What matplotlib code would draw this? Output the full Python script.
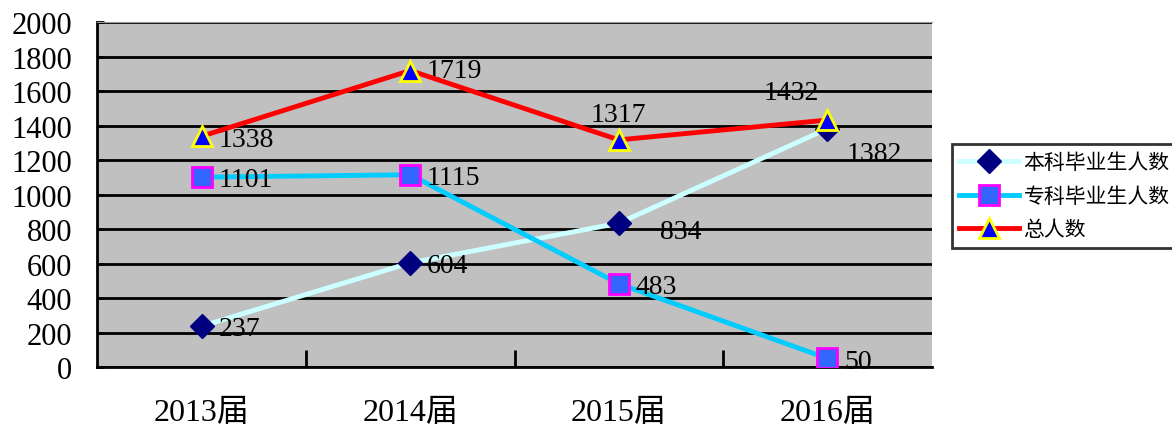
import matplotlib
matplotlib.use("Agg")
import matplotlib.pyplot as plt

plt.rcParams["font.family"] = ["Liberation Serif", "Noto Sans CJK SC"]

categories = ["2013届", "2014届", "2015届", "2016届"]
benke = [237, 604, 834, 1382]
zhuanke = [1101, 1115, 483, 50]
total = [1338, 1719, 1317, 1432]

names = ["本科毕业生人数", "专科毕业生人数", "总人数"]

fig = plt.figure(figsize=(11.72, 4.27), dpi=100)
ax = fig.add_axes([0.083, 0.138, 0.712, 0.808])
ax.set_facecolor("#c0c0c0")

x = list(range(len(categories)))
ax.plot(x, benke, color="#ccffff", lw=3.5, marker="D", ms=12,
        mfc="#000080", mec="#000080", label=names[0], zorder=3)
ax.plot(x, zhuanke, color="#00ccff", lw=3.5, marker="s", ms=14,
        mfc="#3366ff", mec="#ff00ff", mew=2, label=names[1], zorder=3)
ax.plot(x, total, color="#ff0000", lw=3.5, marker="^", ms=15,
        mfc="#0000ff", mec="#ffff00", mew=2, label=names[2], zorder=4)

# data labels: offsets in points
lab_kw = dict(textcoords="offset points", fontsize=20, va="center")
offs_b = [(12, -2), (12, -2), (30, -6), (14, -18)]
offs_z = [(12, -2), (12, -2), (12, -2), (12, -2)]
offs_t = [(12, -2), (12, 0), (-20, 18), (-46, 20)]
for i in x:
    ax.annotate(str(benke[i]), (i, benke[i]), xytext=offs_b[i], **lab_kw)
    ax.annotate(str(zhuanke[i]), (i, zhuanke[i]), xytext=offs_z[i], **lab_kw)
    ax.annotate(str(total[i]), (i, total[i]), xytext=offs_t[i], **lab_kw)

ax.set_xlim(-0.5, len(categories) - 0.5)
ax.set_ylim(0, 2000)
ax.set_yticks(range(0, 2001, 200))
ax.tick_params(axis="y", direction="in", length=5, width=2, labelsize=22, pad=18)
ax.yaxis.grid(True, color="black", lw=2)
ax.set_axisbelow(True)

ax.set_xticks([i + 0.5 for i in x[:-1]])
ax.set_xticklabels([])
ax.set_xticks(x, minor=True)
ax.set_xticklabels(categories, minor=True, fontsize=23)
ax.tick_params(axis="x", which="major", direction="in", length=12, width=2)
ax.tick_params(axis="x", which="minor", length=0, pad=22)

ax.spines["left"].set_linewidth(2)
ax.spines["bottom"].set_linewidth(2)
ax.spines["right"].set_visible(False)
ax.spines["top"].set_color("#999999")

leg = fig.legend(loc="upper left", bbox_to_anchor=(0.812, 0.66),
                 frameon=True, fancybox=False, edgecolor="black",
                 handlelength=2.9, handletextpad=0.2, borderpad=0.35,
                 borderaxespad=0, labelspacing=0.55,
                 prop={"family": ["Noto Sans CJK SC"], "size": 15})
leg.get_frame().set_linewidth(2)

fig.savefig("out.png", dpi=100)
